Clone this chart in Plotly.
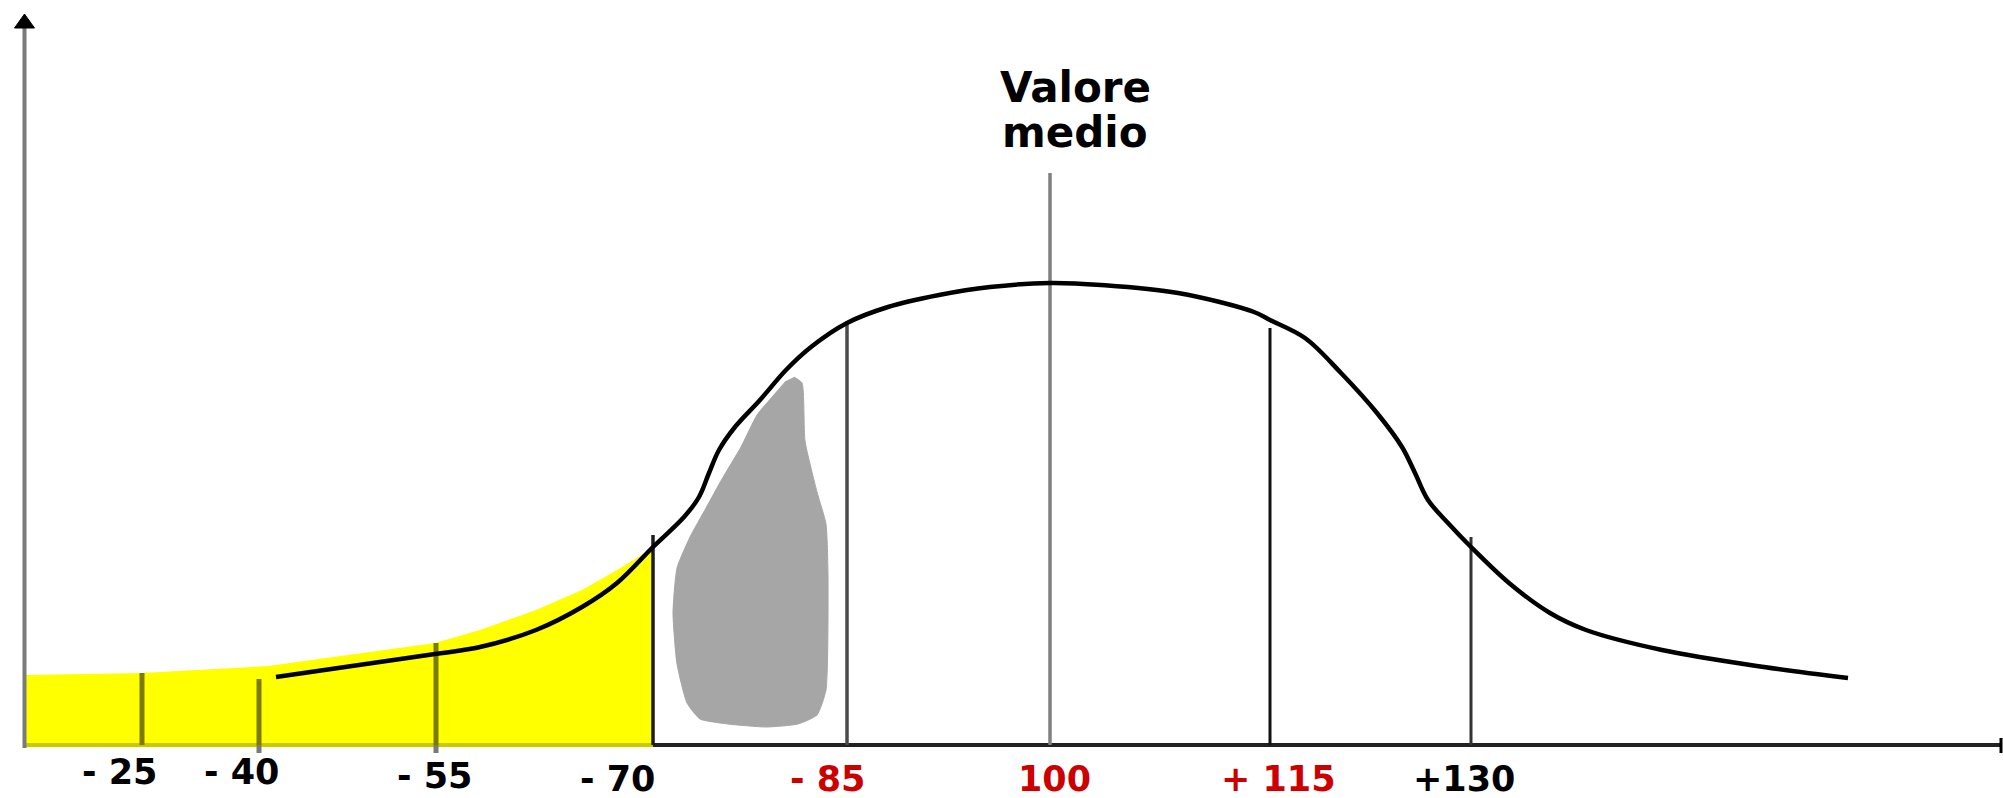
import plotly.graph_objects as go

# ---- data (x: horizontal scale units, h: height above baseline) ----
curve_x = [276, 435, 480, 536, 582, 617, 653, 684, 699, 709, 719, 735, 760, 786, 811, 847,
           888, 939, 990, 1050, 1101, 1178, 1254, 1270, 1305, 1341, 1377, 1402, 1415, 1428,
           1448, 1471, 1509, 1550, 1586, 1662, 1764, 1848]
curve_h = [68, 91, 98, 115, 138, 162, 198, 228, 248, 272, 295, 318, 345, 375, 398, 422,
           438, 450, 458, 462, 460, 452, 433, 425, 407, 372, 332, 298, 272, 245,
           222, 198, 162, 132, 115, 95, 78, 67]

yellow_x = [26, 142, 268, 435, 480, 536, 582, 617, 653, 653, 26]
yellow_h = [70, 72, 79, 102, 115, 135, 155, 175, 197, 0, 0]

blob_x = [794, 802, 805, 817, 826, 828, 826, 817, 798, 766, 728, 700, 687, 677,
          673, 677, 690, 706, 722, 741, 757, 773, 786]
blob_h = [368, 362, 304, 253, 221, 170, 55, 30, 21, 18, 21, 26, 42, 81,
          132, 177, 208, 237, 266, 298, 330, 349, 364]

tick_labels = ["- 25", "- 40", "- 55", "- 70", "- 85", "100", "+ 115", "+130"]
tick_x = [142, 259, 436, 653, 847, 1050, 1270, 1471]
tick_top = [72, 66, 102, 210, 422, 572, 417, 208]
tick_bottom = [0, -8, -8, 0, 0, 0, 0, 0]
label_x = [119, 241, 434, 617, 827, 1054, 1278, 1464]
label_h = [-27, -27, -31, -34, -34, -34, -34, -34]
label_color = ["#000000", "#000000", "#000000", "#000000", "#cc0000", "#cc0000", "#cc0000", "#000000"]
line_color = ["#7b7b00", "#7b7b00", "#7b7b00", "#1a1a1a", "#4a4a4a", "#808080", "#111111", "#333333"]
line_width = [5, 5, 5, 3.5, 3.5, 3.5, 3, 3]

title_lines = ["Valore", "medio"]
title_x = 1075
title_h = [658, 613]

fig = go.Figure()

# yellow area
fig.add_trace(go.Scatter(x=yellow_x, y=yellow_h, mode="lines", fill="toself",
                         fillcolor="#ffff00", line=dict(width=0, color="#ffff00"),
                         hoverinfo="skip"))
# gray blob
fig.add_trace(go.Scatter(x=blob_x, y=blob_h, mode="lines", fill="toself",
                         fillcolor="#a6a6a6", line=dict(width=1, color="#a6a6a6",
                                                        shape="spline", smoothing=0.5),
                         hoverinfo="skip"))

# x axis (olive under the yellow, dark elsewhere)
fig.add_trace(go.Scatter(x=[26, 653], y=[0, 0], mode="lines",
                         line=dict(color="#c9c900", width=4), hoverinfo="skip"))
fig.add_trace(go.Scatter(x=[653, 2001], y=[0, 0], mode="lines",
                         line=dict(color="#222222", width=4), hoverinfo="skip"))
fig.add_trace(go.Scatter(x=[2001, 2001], y=[7, -8], mode="lines",
                         line=dict(color="#000000", width=3), hoverinfo="skip"))

# y axis with arrow head
fig.add_trace(go.Scatter(x=[24.5, 24.5], y=[-3, 717], mode="lines",
                         line=dict(color="#7a7a7a", width=4), hoverinfo="skip"))
fig.add_trace(go.Scatter(x=[14.5, 24.5, 34.5, 14.5], y=[717, 731, 717, 717], mode="lines",
                         fill="toself", fillcolor="#000000", line=dict(color="#000000", width=1),
                         hoverinfo="skip"))

# vertical reference lines
for i in range(len(tick_x)):
    fig.add_trace(go.Scatter(x=[tick_x[i], tick_x[i]], y=[tick_top[i], 0], mode="lines",
                             line=dict(color=line_color[i], width=line_width[i]),
                             hoverinfo="skip"))
    if tick_bottom[i] < 0:
        fig.add_trace(go.Scatter(x=[tick_x[i], tick_x[i]], y=[0, tick_bottom[i]], mode="lines",
                                 line=dict(color="#7a7a7a", width=line_width[i]),
                                 hoverinfo="skip"))

# curve
fig.add_trace(go.Scatter(x=curve_x, y=curve_h, mode="lines",
                         line=dict(color="#000000", width=4.5, shape="spline", smoothing=1.0),
                         hoverinfo="skip"))

# tick labels
for i in range(len(tick_labels)):
    fig.add_annotation(x=label_x[i], y=label_h[i], text=tick_labels[i], showarrow=False,
                       xanchor="center", yanchor="middle", borderpad=0,
                       font=dict(family="DejaVu Sans", size=35, color=label_color[i], weight="bold"))

for i in range(len(title_lines)):
    fig.add_annotation(x=title_x, y=title_h[i], text=title_lines[i], showarrow=False,
                       xanchor="center", yanchor="middle",
                       font=dict(family="DejaVu Sans", size=42, color="#000000", weight="bold"))

fig.update_layout(
    width=2003, height=798,
    margin=dict(l=0, r=0, t=0, b=0),
    paper_bgcolor="#ffffff", plot_bgcolor="#ffffff",
    showlegend=False,
    xaxis=dict(range=[0, 2003], visible=False, fixedrange=True),
    yaxis=dict(range=[-53, 745], visible=False, fixedrange=True),
)

fig.write_html(
    "out.html",
    config={"displayModeBar": False},
    post_script="document.body.style.margin='0';document.body.style.overflow='hidden';",
)
